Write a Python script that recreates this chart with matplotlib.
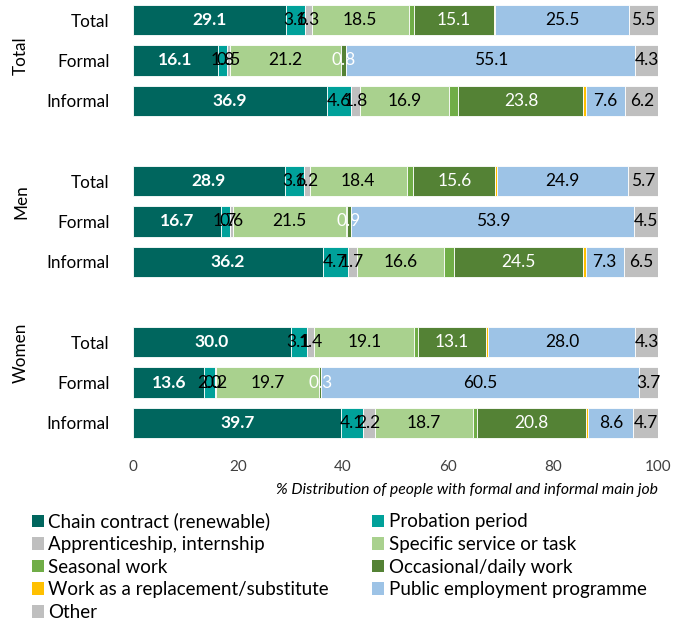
import matplotlib
matplotlib.use("Agg")
import matplotlib.pyplot as plt
from matplotlib.patches import Patch

plt.rcParams['font.family'] = ['Lato', 'DejaVu Sans']

rows = ["Total", "Formal", "Informal"] * 3
groups = ["Total", "Men", "Women"]
positions = [0, 1, 2, 4, 5, 6, 8, 9, 10]

series_names = ["Chain contract (renewable)", "Probation period", "Apprenticeship, internship",
                "Specific service or task", "Seasonal work", "Occasional/daily work",
                "Work as a replacement/substitute", "Public employment programme", "Other"]

chain       = [29.1, 16.1, 36.9, 28.9, 16.7, 36.2, 30.0, 13.6, 39.7]
probation   = [3.6, 1.8, 4.6, 3.6, 1.7, 4.7, 3.1, 2.0, 4.1]
apprentice  = [1.3, 0.5, 1.8, 1.2, 0.6, 1.7, 1.4, 0.2, 2.2]
specific    = [18.5, 21.2, 16.9, 18.4, 21.5, 16.6, 19.1, 19.7, 18.7]
seasonal    = [1.1, 0.1, 1.8, 1.3, 0.2, 2.0, 0.6, 0.0, 0.8]
occasional  = [15.1, 0.8, 23.8, 15.6, 0.9, 24.5, 13.1, 0.3, 20.8]
replacement = [0.3, 0.1, 0.4, 0.4, 0.0, 0.5, 0.4, 0.0, 0.4]
public      = [25.5, 55.1, 7.6, 24.9, 53.9, 7.3, 28.0, 60.5, 8.6]
other       = [5.5, 4.3, 6.2, 5.7, 4.5, 6.5, 4.3, 3.7, 4.7]

series = [chain, probation, apprentice, specific, seasonal, occasional, replacement, public, other]
colors = ["#00665E", "#00A19A", "#BFBFBF", "#A9D18E", "#70AD47", "#548235", "#FFC000", "#9DC3E6", "#BFBFBF"]
label_style = [("white", "bold"), ("black", "normal"), ("black", "normal"), ("black", "normal"),
               None, ("white", "normal"), None, ("black", "normal"), ("black", "normal")]

fig = plt.figure(figsize=(6.89, 6.25), dpi=100)
ax = fig.add_axes([133/689, 1 - 443/625, 525/689, 443/625])

left = [0.0] * len(rows)
for vals, col, name, ls in zip(series, colors, series_names, label_style):
    bars = ax.barh(positions, vals, left=left, height=0.75, color=col, edgecolor="white",
                   linewidth=0.6, label=name)
    if ls is not None:
        ax.bar_label(bars, labels=[f"{v:.1f}" for v in vals], label_type="center",
                     color=ls[0], fontweight=ls[1], fontsize=12.5)
    left = [l + v for l, v in zip(left, vals)]

ax.set_xlim(0, 100)
ax.set_ylim(10.5, -0.5)
ax.set_yticks(positions)
ax.set_yticklabels(rows, fontsize=12.3)
ax.set_xticks([0, 20, 40, 60, 80, 100])
ax.tick_params(axis="x", labelsize=11, length=0, pad=12)
ax.tick_params(axis="y", length=0, pad=17)
for lbl in ax.get_xticklabels():
    lbl.set_color("#404040")
for s in ax.spines.values():
    s.set_visible(False)

ax.set_xlabel("% Distribution of people with formal and informal main job", fontsize=11.3,
              style="italic", loc="right", labelpad=7)

group_y = [56, 202, 353]
for g, y in zip(groups, group_y):
    fig.text(21/689, 1 - y/625, g, rotation=90, ha="center", va="center", fontsize=12.3)

order = [0, 2, 4, 6, 8, 1, 3, 5, 7]
handles = [Patch(facecolor=colors[i], edgecolor="none") for i in order]
labels = [series_names[i] for i in order]
fig.legend(handles, labels, ncol=2, loc="upper left", bbox_to_anchor=(24/689, 1 - 505/625),
           frameon=False, fontsize=13.5, handlelength=0.65, handleheight=0.65,
           handletextpad=0.25, columnspacing=2.3, labelspacing=0.3, borderaxespad=0)

fig.savefig("out.png", dpi=100)
